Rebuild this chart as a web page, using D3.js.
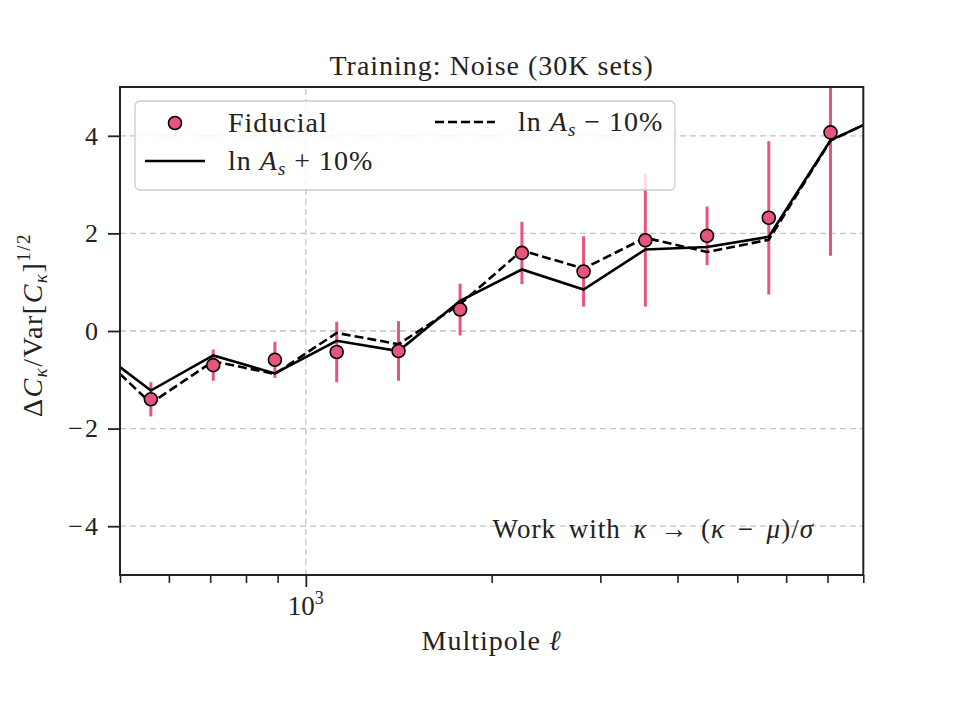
<!DOCTYPE html>
<html>
<head>
<meta charset="utf-8">
<script src="https://cdn.jsdelivr.net/npm/d3@7"></script>
<style>
  body { margin: 0; background: #fff; }
  svg { font-family: "Liberation Serif", "DejaVu Serif", serif; }
</style>
</head>
<body>
<svg id="chart" width="960" height="720"></svg>
<script>
// bin centres (multipole) and measured points
const ells = [561, 708, 891, 1122, 1413, 1778, 2239, 2818, 3548, 4467, 5623, 7079];
const fiducial = [-1.40, -0.70, -0.59, -0.43, -0.41, 0.44, 1.60, 1.22, 1.86, 1.95, 2.32, 4.07];
const fidErr = [0.35, 0.32, 0.37, 0.62, 0.61, 0.53, 0.64, 0.72, 1.36, 0.60, 1.57, 2.53];
// model curves, running edge to edge of the axis
const lineElls = [500, 561, 708, 891, 1122, 1413, 1778, 2239, 2818, 3548, 4467, 5623, 7079, 8000];
const asPlus = [-0.74, -1.22, -0.50, -0.87, -0.20, -0.41, 0.62, 1.26, 0.85, 1.67, 1.72, 1.93, 3.91, 4.22];
const asMinus = [-0.88, -1.48, -0.62, -0.88, -0.04, -0.27, 0.55, 1.65, 1.28, 1.91, 1.62, 1.87, 3.90, 4.22];
const yTicks = [-4, -2, 0, 2, 4];
const xMinor = [500, 600, 700, 800, 900, 2000, 3000, 4000, 5000, 6000, 7000, 8000];
const xMajor = [1000];

const pink = "#e8557c";
const margin = {left: 120, right: 96.7, top: 87, bottom: 145};
const W = 960, H = 720;

const svg = d3.select('#chart');
const x = d3.scaleLog().domain([500, 8000]).range([margin.left, W - margin.right]);
const y = d3.scaleLinear().domain([-5, 5]).range([H - margin.bottom, margin.top]);

svg.append('defs').append('clipPath').attr('id', 'clip')
    .append('rect')
    .attr('x', x.range()[0]).attr('y', y.range()[1])
    .attr('width', x.range()[1] - x.range()[0])
    .attr('height', y.range()[0] - y.range()[1]);

// grid
const grid = svg.append('g').attr('stroke', '#c4c4c4').attr('stroke-width', 1.3)
    .attr('stroke-dasharray', '6,4');
grid.selectAll('line.h').data(yTicks).join('line')
    .attr('x1', x.range()[0]).attr('x2', x.range()[1])
    .attr('y1', d => y(d)).attr('y2', d => y(d));
grid.selectAll('line.v').data(xMajor).join('line')
    .attr('y1', y.range()[0]).attr('y2', y.range()[1])
    .attr('x1', d => x(d)).attr('x2', d => x(d));

const plot = svg.append('g').attr('clip-path', 'url(#clip)');

// error bars
plot.append('g').selectAll('line').data(ells).join('line')
    .attr('x1', d => x(d)).attr('x2', d => x(d))
    .attr('y1', (d, i) => y(fiducial[i] - fidErr[i]))
    .attr('y2', (d, i) => y(fiducial[i] + fidErr[i]))
    .attr('stroke', pink).attr('stroke-width', 3);

const line = d3.line().x(d => x(d[0])).y(d => y(d[1]));
plot.append('path')
    .datum(lineElls.map((e, i) => [e, asPlus[i]]))
    .attr('d', line).attr('fill', 'none')
    .attr('stroke', '#000').attr('stroke-width', 2.6);
plot.append('path')
    .datum(lineElls.map((e, i) => [e, asMinus[i]]))
    .attr('d', line).attr('fill', 'none')
    .attr('stroke', '#000').attr('stroke-width', 2.6)
    .attr('stroke-dasharray', '9,4');

plot.append('g').selectAll('circle').data(ells).join('circle')
    .attr('cx', d => x(d)).attr('cy', (d, i) => y(fiducial[i]))
    .attr('r', 6.5)
    .attr('fill', pink).attr('stroke', '#000').attr('stroke-width', 1.6);

// axes
const axisCol = '#222';
const yAxis = svg.append('g').attr('transform', `translate(${margin.left},0)`)
    .call(d3.axisLeft(y).tickValues(yTicks).tickSize(12).tickPadding(8)
        .tickFormat(d => d < 0 ? '\u2212' + Math.abs(d) : d));
yAxis.select('.domain').remove();
yAxis.selectAll('.tick line').attr('stroke', axisCol).attr('stroke-width', 1.8);
yAxis.selectAll('.tick text').attr('font-size', 26).attr('fill', '#222')
    .attr('letter-spacing', 2)
    .attr('font-family', '"Liberation Serif", serif');

const xAxis = svg.append('g').attr('transform', `translate(0,${H - margin.bottom})`);
xAxis.call(d3.axisBottom(x).tickValues(xMinor).tickSize(8).tickFormat(''));
xAxis.select('.domain').remove();
xAxis.selectAll('.tick line').attr('stroke', axisCol).attr('stroke-width', 1.6);
const xMaj = svg.append('g').attr('transform', `translate(0,${H - margin.bottom})`)
    .call(d3.axisBottom(x).tickValues(xMajor).tickSize(12).tickFormat(''));
xMaj.select('.domain').remove();
xMaj.selectAll('.tick line').attr('stroke', axisCol).attr('stroke-width', 1.8);

const majLab = svg.append('text')
    .attr('x', x(1000)).attr('y', 615)
    .attr('text-anchor', 'middle').attr('font-size', 27).attr('fill', '#222');
majLab.append('tspan').text('10');
majLab.append('tspan').attr('dy', -11).attr('font-size', 18).text('3');

// frame
svg.append('rect')
    .attr('x', x.range()[0]).attr('y', y.range()[1])
    .attr('width', x.range()[1] - x.range()[0])
    .attr('height', y.range()[0] - y.range()[1])
    .attr('fill', 'none').attr('stroke', axisCol).attr('stroke-width', 2);

// titles
svg.append('text').attr('x', (x.range()[0] + x.range()[1]) / 2).attr('y', 75)
    .attr('text-anchor', 'middle').attr('font-size', 28).attr('letter-spacing', 1)
    .attr('fill', '#222')
    .text('Training: Noise (30K sets)');

svg.append('text').attr('x', (x.range()[0] + x.range()[1]) / 2).attr('y', 650)
    .attr('text-anchor', 'middle').attr('font-size', 28).attr('letter-spacing', 1)
    .attr('fill', '#222')
    .call(t => {
        t.append('tspan').text('Multipole ');
        t.append('tspan').attr('font-style', 'italic').text('\u2113');
    });

const yl = svg.append('text')
    .attr('transform', `translate(42,${(y.range()[0] + y.range()[1]) / 2 - 6}) rotate(-90)`)
    .attr('text-anchor', 'middle').attr('font-size', 28).attr('letter-spacing', 1.5)
    .attr('fill', '#222');
yl.append('tspan').text('\u0394');
yl.append('tspan').attr('font-style', 'italic').text('C');
yl.append('tspan').attr('font-style', 'italic').attr('font-size', 19).attr('dy', 5).text('\u03ba');
yl.append('tspan').attr('dy', -5).text('/Var[');
yl.append('tspan').attr('font-style', 'italic').text('C');
yl.append('tspan').attr('font-style', 'italic').attr('font-size', 19).attr('dy', 5).text('\u03ba');
yl.append('tspan').attr('dy', -5).text(']');
yl.append('tspan').attr('font-size', 19).attr('dy', -12).text('1/2');

// annotation
const ann = svg.append('text').attr('x', 814).attr('y', 538)
    .attr('text-anchor', 'end').attr('font-size', 27).attr('letter-spacing', 1)
    .attr('word-spacing', 5).attr('fill', '#222');
ann.append('tspan').text('Work with ');
ann.append('tspan').attr('font-style', 'italic').text('\u03ba');
ann.append('tspan').text(' \u2192 (');
ann.append('tspan').attr('font-style', 'italic').text('\u03ba');
ann.append('tspan').text(' \u2212 ');
ann.append('tspan').attr('font-style', 'italic').text('\u03bc');
ann.append('tspan').text(')/');
ann.append('tspan').attr('font-style', 'italic').text('\u03c3');

// legend
const leg = svg.append('g');
leg.append('rect').attr('x', 135).attr('y', 101).attr('width', 540).attr('height', 89)
    .attr('rx', 5).attr('fill', 'rgba(255,255,255,0.8)')
    .attr('stroke', '#cccccc').attr('stroke-width', 1.3);

function lnAs(g, sign) {
    g.append('tspan').text('ln ');
    g.append('tspan').attr('font-style', 'italic').text('A');
    g.append('tspan').attr('font-style', 'italic').attr('font-size', 19).attr('dy', 5).text('s');
    g.append('tspan').attr('dy', -5).text(` ${sign} 10%`);
}

const legendItems = [
    {kind: 'marker', label: 'Fiducial', lx: 145, ty: 123},
    {kind: 'solid', label: '+', lx: 145, ty: 161},
    {kind: 'dashed', label: '\u2212', lx: 435, ty: 122}
];
legendItems.forEach(it => {
    if (it.kind === 'marker') {
        leg.append('circle').attr('cx', it.lx + 30).attr('cy', it.ty).attr('r', 6.5)
            .attr('fill', pink).attr('stroke', '#000').attr('stroke-width', 1.6);
    } else {
        leg.append('line').attr('x1', it.lx).attr('x2', it.lx + 60)
            .attr('y1', it.ty).attr('y2', it.ty)
            .attr('stroke', '#000').attr('stroke-width', 2.6)
            .attr('stroke-dasharray', it.kind === 'dashed' ? '9,4' : null);
    }
    const t = leg.append('text').attr('x', it.lx + 83).attr('y', it.ty + 9)
        .attr('font-size', 28).attr('letter-spacing', 1).attr('fill', '#222');
    if (it.kind === 'marker') t.text(it.label);
    else lnAs(t, it.label);
});
</script>
</body>
</html>
